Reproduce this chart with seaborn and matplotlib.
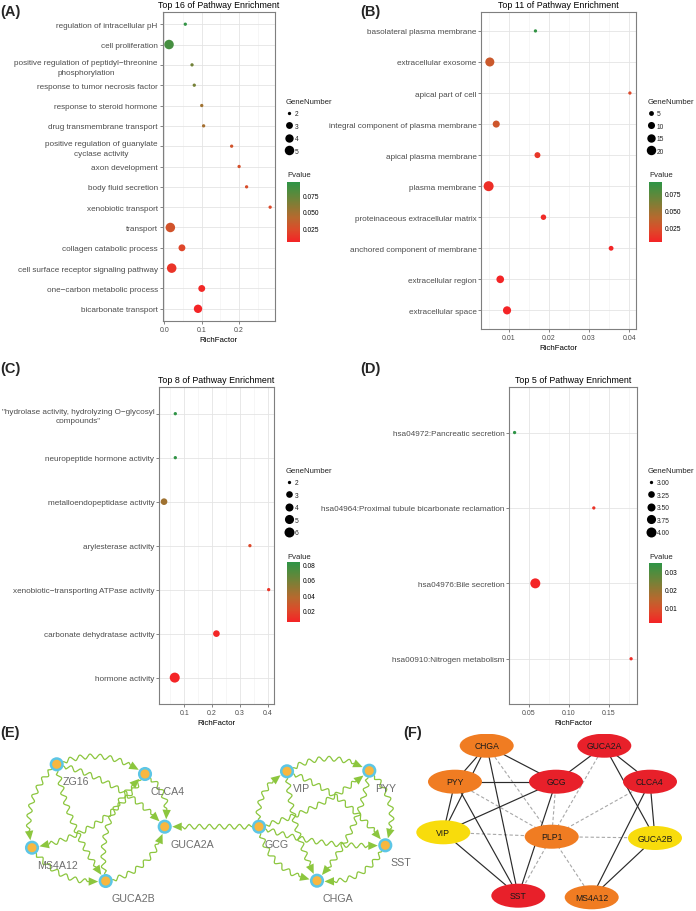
import numpy as np
import pandas as pd
import matplotlib
matplotlib.use("Agg")
import matplotlib.pyplot as plt
import seaborn as sns
from matplotlib.colors import LinearSegmentedColormap, Normalize
from matplotlib.lines import Line2D
from matplotlib.patches import Circle, Ellipse, Polygon
from matplotlib.ticker import MultipleLocator, FormatStrFormatter
import matplotlib.cm as cm

W, H = 696, 912
sns.set_theme(style="white")
plt.rcParams["font.family"] = ["Liberation Sans", "DejaVu Sans"]

# ---------------- data ----------------
A_terms = ["regulation of intracellular pH", "cell proliferation",
           "positive regulation of peptidyl\u2212threonine\nphosphorylation",
           "response to tumor necrosis factor", "response to steroid hormone",
           "drug transmembrane transport",
           "positive regulation of guanylate\ncyclase activity",
           "axon development", "body fluid secretion", "xenobiotic transport",
           "transport", "collagen catabolic process",
           "cell surface receptor signaling pathway",
           "one\u2212carbon metabolic process", "bicarbonate transport"]
A_rich = [0.056, 0.0125, 0.074, 0.080, 0.100, 0.105, 0.180, 0.200, 0.220, 0.283,
          0.016, 0.047, 0.0196, 0.100, 0.090]
A_genes = [2, 5, 2, 2, 2, 2, 2, 2, 2, 2, 5, 3, 5, 3, 4]
A_p = [0.093, 0.085, 0.068, 0.066, 0.050, 0.048, 0.028, 0.026, 0.024, 0.022,
       0.028, 0.020, 0.012, 0.006, 0.004]

B_terms = ["basolateral plasma membrane", "extracellular exosome",
           "apical part of cell", "integral component of plasma membrane",
           "apical plasma membrane", "plasma membrane",
           "proteinaceous extracellular matrix",
           "anchored component of membrane", "extracellular region",
           "extracellular space"]
B_rich = [0.0166, 0.0052, 0.0402, 0.0068, 0.0171, 0.0049, 0.0186, 0.0355, 0.0078, 0.0095]
B_genes = [4, 18, 4, 10, 7, 23, 6, 5, 12, 14]
B_p = [0.090, 0.030, 0.020, 0.028, 0.012, 0.008, 0.006, 0.004, 0.004, 0.003]

C_terms = ["\"hydrolase activity, hydrolyzing O\u2212glycosyl\ncompounds\"",
           "neuropeptide hormone activity", "metalloendopeptidase activity",
           "arylesterase activity", "xenobiotic\u2212transporting ATPase activity",
           "carbonate dehydratase activity", "hormone activity"]
C_rich = [0.0676, 0.0676, 0.027, 0.336, 0.4035, 0.2155, 0.0655]
C_genes = [2, 2, 3, 2, 2, 3, 6]
C_p = [0.083, 0.082, 0.045, 0.020, 0.012, 0.006, 0.005]

D_terms = ["hsa04972:Pancreatic secretion",
           "hsa04964:Proximal tubule bicarbonate reclamation",
           "hsa04976:Bile secretion", "hsa00910:Nitrogen metabolism"]
D_rich = [0.032, 0.131, 0.0579, 0.1776]
D_genes = [3, 3, 4, 3]
D_p = [0.0348, 0.004, 0.0013, 0.003]

# network E
E_nodes = ["ZG16", "CLCA4", "GUCA2A", "MS4A12", "GUCA2B", "GCG", "VIP", "PYY", "SST", "CHGA"]
E_x = [56.7, 145.0, 164.7, 32.0, 105.7, 259.0, 287.0, 369.3, 385.3, 317.0]
E_y = [765.3, 775.0, 827.7, 848.7, 882.0, 827.7, 772.3, 771.7, 846.3, 881.7]
E_edges = [("ZG16", "CLCA4", -0.28), ("ZG16", "MS4A12", 0.3), ("ZG16", "GUCA2A", -0.15),
           ("ZG16", "GUCA2B", 0.12), ("CLCA4", "MS4A12", -0.22), ("MS4A12", "GUCA2B", 0.3),
           ("GUCA2B", "GUCA2A", 0.32), ("GUCA2B", "CLCA4", -0.3), ("CLCA4", "GUCA2A", -0.35),
           ("GCG", "GUCA2A", 0.0),
           ("GCG", "VIP", -0.35), ("VIP", "PYY", -0.3), ("GCG", "PYY", 0.12),
           ("PYY", "SST", -0.35), ("VIP", "SST", -0.15), ("GCG", "SST", 0.1),
           ("VIP", "CHGA", 0.1), ("PYY", "CHGA", -0.15), ("GCG", "CHGA", 0.35),
           ("SST", "CHGA", -0.35)]

# network F
F_nodes = ["CHGA", "GUCA2A", "PYY", "GCG", "CLCA4", "VIP", "PLP1", "GUCA2B", "SST", "MS4A12"]
F_x = [486.7, 604.3, 455.0, 556.0, 650.0, 443.3, 551.7, 655.0, 518.3, 591.7]
F_y = [746.7, 746.7, 782.7, 782.7, 782.7, 833.3, 837.7, 839.0, 896.7, 898.3]
F_color = ["#F07C22", "#E8202A", "#F07C22", "#E8202A", "#E8202A", "#F8DC0C",
           "#F07C22", "#F8DC0C", "#E8202A", "#F07C22"]
F_solid = [("CHGA", "PYY"), ("CHGA", "VIP"), ("CHGA", "GCG"), ("CHGA", "SST"),
           ("PYY", "GCG"), ("PYY", "VIP"), ("PYY", "SST"), ("GCG", "VIP"),
           ("GCG", "GUCA2A"), ("GCG", "SST"), ("GUCA2A", "CLCA4"), ("GUCA2A", "GUCA2B"),
           ("CLCA4", "GUCA2B"), ("CLCA4", "MS4A12"), ("VIP", "SST"), ("GUCA2B", "MS4A12")]
F_dashed = [("PLP1", n) for n in ["CHGA", "PYY", "VIP", "GCG", "GUCA2A", "CLCA4",
                                  "GUCA2B", "MS4A12", "SST"]]

# ---------------- helpers ----------------
pcmap = LinearSegmentedColormap.from_list(
    "pv", ["#F42426", "#DC4A2A", "#B8682E", "#8A7A34", "#5A8A3C", "#2E9446"])

fig = plt.figure(figsize=(W / 100, H / 100), dpi=100)
fig.patch.set_facecolor("white")


def rect(x0, y0, x1, y1):
    return [x0 / W, 1 - y1 / H, (x1 - x0) / W, (y1 - y0) / H]


def make_diam(d1, d2, vmin, vmax):
    def f(v):
        return d1 + (d2 - d1) * np.sqrt((v - vmin) / (vmax - vmin))
    return f


TICK_COL = "#4D4D4D"


def bubble_panel(terms, rich, genes, pvals, box, xlim, major, minor, fmt, title,
                 diam, pnorm, pticks, pfmt, leg_vals, leg_labels, leg_xy, cbar_box, pv_xy):
    ax = fig.add_axes(rect(*box))
    df = pd.DataFrame({"Term": terms, "RichFactor": rich,
                       "GeneNumber": genes, "Pvalue": pvals})
    sizes = {v: (diam(v) * 0.72) ** 2 for v in sorted(set(genes))}
    norm = Normalize(*pnorm)
    ax.set_axisbelow(True)
    sns.scatterplot(data=df, x="RichFactor", y="Term", size="GeneNumber",
                    sizes=sizes, hue="Pvalue", palette=pcmap, hue_norm=norm,
                    linewidth=0, legend=False, ax=ax, zorder=3)
    n = len(terms)
    ax.set_yticks(range(n))
    ax.set_yticklabels(terms, multialignment="center", linespacing=1.55)
    ax.set_ylim(n - 0.4, -0.6)
    ax.set_xlim(*xlim)
    ax.xaxis.set_major_locator(MultipleLocator(major))
    ax.xaxis.set_minor_locator(MultipleLocator(minor))
    ax.xaxis.set_major_formatter(FormatStrFormatter(fmt))
    ax.grid(which="major", color="#E4E4E4", lw=0.6)
    ax.grid(which="minor", axis="x", color="#F0F0F0", lw=0.4)
    ax.tick_params(axis="both", which="major", length=2, width=0.5, color="#555555",
                   labelsize=5.9, labelcolor=TICK_COL, pad=1.5, left=True, bottom=True)
    ax.tick_params(axis="x", which="major", labelsize=5.0)
    ax.tick_params(axis="x", which="minor", length=0)
    for s in ax.spines.values():
        s.set_color("#7F7F7F")
        s.set_linewidth(0.8)
    ax.set_ylabel("")
    ax.set_xlabel("RichFactor", fontsize=5.7, labelpad=2, color="black")
    ax.set_title(title, fontsize=6.4, pad=3.5, color="black")
    # size legend
    handles = [Line2D([], [], marker="o", linestyle="", color="black", markeredgewidth=0,
                      markersize=diam(v) * 0.72) for v in leg_vals]
    ax.legend(handles, leg_labels, title="GeneNumber", loc="upper left",
              bbox_to_anchor=(leg_xy[0] / W, 1 - leg_xy[1] / H),
              bbox_transform=fig.transFigure, frameon=False, fontsize=4.8,
              title_fontsize=5.6, alignment="left", borderaxespad=0, borderpad=0,
              handlelength=1.0, handletextpad=0.3, labelspacing=0.78,
              handleheight=1.0)
    # colour bar
    cax = fig.add_axes(rect(*cbar_box))
    cb = fig.colorbar(cm.ScalarMappable(norm=norm, cmap=pcmap), cax=cax, ticks=pticks)
    cb.outline.set_visible(False)
    cax.set_yticklabels([pfmt % v for v in pticks])
    cax.tick_params(axis="y", direction="in", length=2.5, width=0.6, color="white",
                    left=True, right=True, labelleft=False, labelright=True,
                    labelsize=4.8, labelcolor="black", pad=2)
    fig.text(pv_xy[0] / W, 1 - pv_xy[1] / H, "Pvalue", fontsize=5.6, va="center",
             ha="left")
    return ax


dA = make_diam(3.3, 9.5, 2, 5)
bubble_panel(A_terms, A_rich, A_genes, A_p, (162.5, 13, 275, 322), (-0.005, 0.296),
             0.1, 0.05, "%.1f", "Top 16 of Pathway Enrichment", dA, (0.004, 0.095),
             [0.025, 0.05, 0.075], "%.3f", [2, 3, 4, 5], ["2", "3", "4", "5"], (286, 99),
             (287, 183, 300, 243), (287, 176))

dB = make_diam(3.3, 10, 4, 23)
bubble_panel(B_terms, B_rich, B_genes, B_p, (481.3, 13.3, 636.3, 330), (0.00307, 0.0418),
             0.01, 0.005, "%.2f", "Top 11 of Pathway Enrichment", dB, (0.003, 0.092),
             [0.025, 0.05, 0.075], "%.3f", [5, 10, 15, 20], ["5", "10", "15", "20"],
             (648, 99), (649, 183, 662, 243), (649, 176))

dC = make_diam(3.3, 10, 2, 6)
bubble_panel(C_terms, C_rich, C_genes, C_p, (159.3, 388.3, 274, 705), (0.01, 0.4227),
             0.1, 0.05, "%.1f", "Top 8 of Pathway Enrichment", dC, (0.005, 0.0834),
             [0.02, 0.04, 0.06, 0.08], "%.2f", [2, 3, 4, 5, 6], ["2", "3", "4", "5", "6"],
             (286, 468), (287, 563, 300, 623), (287, 557.5))

dD = make_diam(3.3, 10, 3, 4)
bubble_panel(D_terms, D_rich, D_genes, D_p, (509.3, 388.3, 636.7, 705), (0.0254, 0.1846),
             0.05, 0.025, "%.2f", "Top 5 of Pathway Enrichment", dD, (0.0013, 0.0348),
             [0.01, 0.02, 0.03], "%.2f", [3.0, 3.25, 3.5, 3.75, 4.0],
             ["3.00", "3.25", "3.50", "3.75", "4.00"], (648, 468),
             (649, 564, 662, 624), (649, 557.5))

# panel letters
for lab, x, y in [("(A)", 0, 12), ("(B)", 360, 12), ("(C)", 0, 369), ("(D)", 360, 369),
                  ("(E)", 0, 733), ("(F)", 403, 733)]:
    fig.text(x / W, 1 - y / H, lab, fontsize=10.5, fontweight="bold", va="center",
             ha="left")

# ---------------- panel E ----------------
axE = fig.add_axes(rect(0, 740, 430, 912))
axE.set_xlim(0, 430)
axE.set_ylim(912, 740)
axE.axis("off")
GREEN = "#8CC63E"
posE = {n: np.array([x, y]) for n, x, y in zip(E_nodes, E_x, E_y)}


def wavy_edge(ax, p0, p1, curv, r0=7.0, r1=7.5, alen=9.5, aw=4.2, amp=2.3, wl=10.0):
    d = p1 - p0
    L = np.hypot(*d)
    nvec = np.array([-d[1], d[0]]) / L
    c = (p0 + p1) / 2 + curv * L * nvec
    t = np.linspace(0, 1, 1500)
    pts = ((1 - t) ** 2)[:, None] * p0 + (2 * (1 - t) * t)[:, None] * c + (t ** 2)[:, None] * p1
    d0 = np.hypot(*(pts - p0).T)
    d1 = np.hypot(*(pts - p1).T)
    i0 = np.argmax(d0 >= r0)
    itip = len(t) - 1 - np.argmax(d1[::-1] >= r1)
    ibase = len(t) - 1 - np.argmax(d1[::-1] >= r1 + alen)
    seg = pts[i0:ibase + 1]
    tan = np.gradient(seg, axis=0)
    tan /= np.hypot(*tan.T)[:, None]
    nor = np.stack([-tan[:, 1], tan[:, 0]], axis=1)
    s = np.concatenate([[0], np.cumsum(np.hypot(*np.diff(seg, axis=0).T))])
    S = s[-1]
    taper = np.clip(np.minimum(s, S - s) / 3.0, 0, 1)
    wav = seg + (amp * np.sin(2 * np.pi * s / wl) * taper)[:, None] * nor
    ax.plot(wav[:, 0], wav[:, 1], color=GREEN, lw=0.9, zorder=2, solid_capstyle="round")
    tip = pts[itip]
    base = pts[ibase]
    u = (tip - base) / np.hypot(*(tip - base))
    pn = np.array([-u[1], u[0]])
    tri = np.array([tip, base + aw * pn, base - aw * pn])
    ax.add_patch(Polygon(tri, closed=True, facecolor=GREEN, edgecolor="none", zorder=3))


for a, b, cv in E_edges:
    wavy_edge(axE, posE[a], posE[b], cv)

for n in E_nodes:
    x, y = posE[n]
    axE.add_patch(Circle((x, y), 5.8, facecolor="#F8B740", edgecolor="#5CC6E6",
                         linewidth=1.8, zorder=5))
    axE.text(x + 5.5, y + 17, n, fontsize=7.7, color="#6E6E6E", ha="left", va="center",
             zorder=6)

# ---------------- panel F ----------------
axF = fig.add_axes(rect(410, 735, 696, 912))
axF.set_xlim(410, 696)
axF.set_ylim(912, 735)
axF.axis("off")
posF = {n: np.array([x, y]) for n, x, y in zip(F_nodes, F_x, F_y)}
for a, b in F_solid:
    axF.plot([posF[a][0], posF[b][0]], [posF[a][1], posF[b][1]], color="#2B2B2B",
             lw=0.85, zorder=2)
for a, b in F_dashed:
    axF.plot([posF[a][0], posF[b][0]], [posF[a][1], posF[b][1]], color="#A8A8A8",
             lw=0.8, dashes=(3, 2), zorder=1)
for n, col in zip(F_nodes, F_color):
    x, y = posF[n]
    axF.add_patch(Ellipse((x, y), 54, 24, facecolor=col, edgecolor="none", zorder=4))
    axF.text(x, y, n, fontsize=6.2, color="#1A1A1A", ha="center", va="center", zorder=5)

fig.savefig("out.png", dpi=100, facecolor="white")
